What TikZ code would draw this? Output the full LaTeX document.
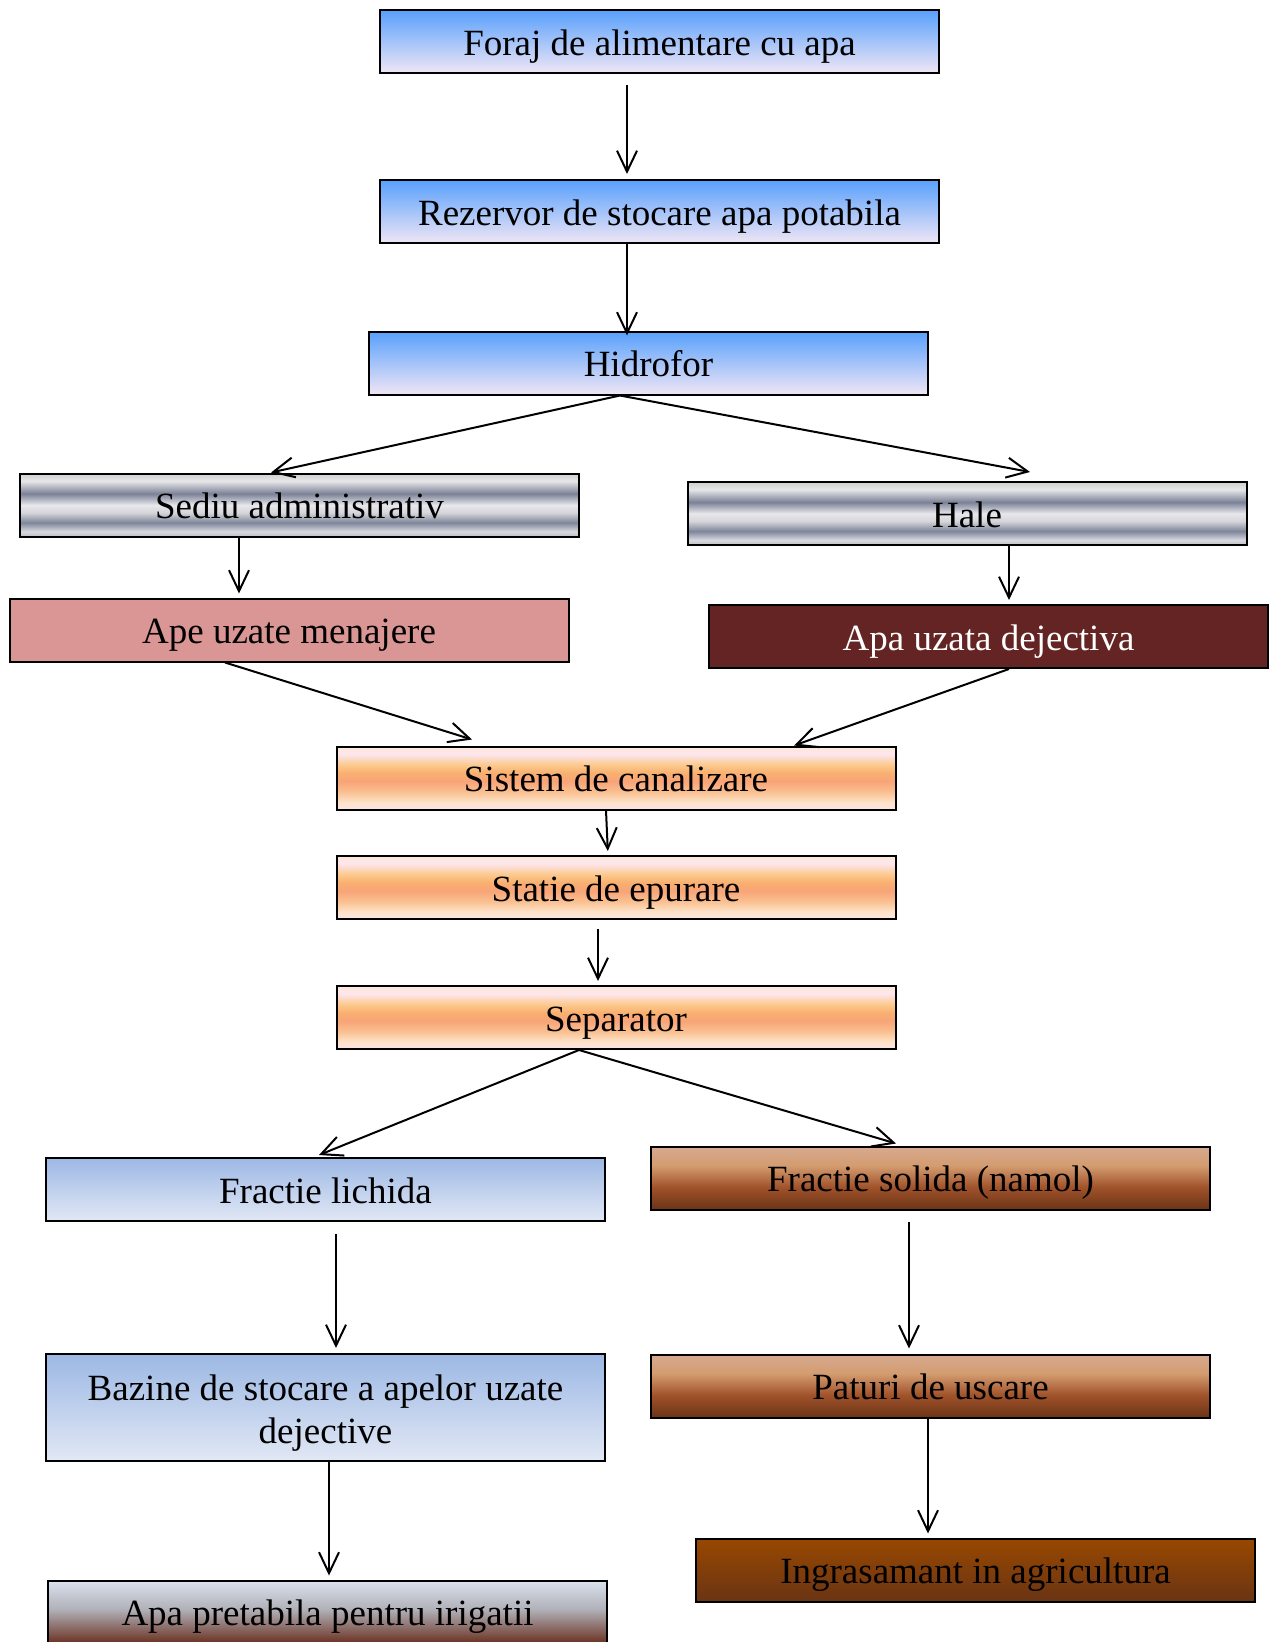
\documentclass[tikz,border=0pt]{standalone}
\usepackage{fontspec}
\setmainfont{Liberation Serif}
\usetikzlibrary{arrows.meta}

% colours
\definecolor{skyTop}{RGB}{88,160,252}
\definecolor{skyBot}{RGB}{240,230,245}
\definecolor{chA}{RGB}{207,207,210}
\definecolor{chB}{RGB}{230,230,232}
\definecolor{chDark}{RGB}{123,129,150}
\definecolor{chC}{RGB}{232,232,236}
\definecolor{chD}{RGB}{214,214,218}
\definecolor{chDark2}{RGB}{126,134,154}
\definecolor{chE}{RGB}{216,216,222}
\definecolor{chF}{RGB}{192,192,200}
\definecolor{peA}{RGB}{252,232,216}
\definecolor{peB}{RGB}{253,230,238}
\definecolor{peC}{RGB}{251,200,138}
\definecolor{peD}{RGB}{249,176,112}
\definecolor{peE}{RGB}{248,164,120}
\definecolor{peF}{RGB}{250,192,144}
\definecolor{peG}{RGB}{253,226,200}
\definecolor{peH}{RGB}{253,228,228}
\definecolor{liqTop}{RGB}{156,184,228}
\definecolor{liqBot}{RGB}{226,232,245}
\definecolor{soA}{RGB}{214,170,144}
\definecolor{soB}{RGB}{212,156,112}
\definecolor{soC}{RGB}{160,82,42}
\definecolor{soD}{RGB}{106,52,22}
\definecolor{ingTop}{RGB}{152,72,0}
\definecolor{ingBot}{RGB}{106,52,20}
\definecolor{irTop}{RGB}{218,226,238}
\definecolor{irMid}{RGB}{176,176,184}
\definecolor{irBot}{RGB}{106,48,32}
\definecolor{menajFill}{RGB}{217,150,148}
\definecolor{dejFill}{RGB}{99,36,35}

% vertical shadings (the path is mapped onto 25bp..75bp)
\pgfdeclareverticalshading{skyshade}{100bp}{color(0bp)=(skyBot); color(25bp)=(skyBot); color(75bp)=(skyTop); color(100bp)=(skyTop)}
\pgfdeclareverticalshading{chromeshade}{100bp}{color(0bp)=(chF); color(25bp)=(chF); color(29bp)=(chE); color(36bp)=(chDark2); color(44bp)=(chD); color(50bp)=(chC); color(59bp)=(chDark); color(69bp)=(chB); color(75bp)=(chA); color(100bp)=(chA)}
\pgfdeclareverticalshading{peachshade}{100bp}{color(0bp)=(peH); color(25bp)=(peH); color(31bp)=(peG); color(39bp)=(peF); color(47.5bp)=(peE); color(54bp)=(peD); color(60bp)=(peC); color(69bp)=(peB); color(75bp)=(peA); color(100bp)=(peA)}
\pgfdeclareverticalshading{liqshade}{100bp}{color(0bp)=(liqBot); color(25bp)=(liqBot); color(75bp)=(liqTop); color(100bp)=(liqTop)}
\pgfdeclareverticalshading{solshade}{100bp}{color(0bp)=(soD); color(25bp)=(soD); color(42.5bp)=(soC); color(60bp)=(soB); color(75bp)=(soA); color(100bp)=(soA)}
\pgfdeclareverticalshading{ingshade}{100bp}{color(0bp)=(ingBot); color(25bp)=(ingBot); color(75bp)=(ingTop); color(100bp)=(ingTop)}
\pgfdeclareverticalshading{irshade}{100bp}{color(0bp)=(irBot); color(25bp)=(irBot); color(52bp)=(irMid); color(75bp)=(irTop); color(100bp)=(irTop)}

\tikzset{
  boxbase/.style={draw=black, line width=2pt, rectangle, minimum width=559pt,
    minimum height=63pt, inner sep=0pt, align=center,
    font=\fontsize{37}{43}\selectfont},
  box/.style={boxbase, text height=35pt, text depth=8pt},
  sky/.style={box, shading=skyshade},
  chrome/.style={box, shading=chromeshade},
  peach/.style={box, shading=peachshade},
  liquid/.style={box, shading=liqshade},
  solid/.style={box, shading=solshade},
  flow/.style={line width=2pt, -{Straight Barb[length=21pt,width=20pt,line width=2pt]}}
}

\begin{document}
\begin{tikzpicture}[x=1pt, y=-1pt]
\useasboundingbox (0,0) rectangle (1269,1642);

% upper water supply chain
\node[sky] (foraj) at (659.5,41.5) {Foraj de alimentare cu apa};
\node[sky] (rezervor) at (659.5,211.5) {Rezervor de stocare apa potabila};
\node[sky] (hidrofor) at (648.5,363) {Hidrofor};

% consumers
\node[chrome] (sediu) at (299.5,505) {Sediu administrativ};
\node[chrome] (hale) at (967,513.5) {Hale};

% waste water
\node[box, fill=menajFill] (menaj) at (289,630) {Ape uzate menajere};
\node[box, fill=dejFill, text=white] (dej) at (988.5,636.5) {Apa uzata dejectiva};

% treatment
\node[peach] (sistem) at (616,778) {Sistem de canalizare};
\node[peach] (statie) at (616,887.5) {Statie de epurare};
\node[peach] (separator) at (616,1017.5) {Separator};

% fractions
\node[liquid] (lichida) at (325.5,1189.5) {Fractie lichida};
\node[solid] (solida) at (930.5,1178) {Fractie solida (namol)};
\node[boxbase, shading=liqshade, minimum height=107pt] (bazine) at (325.5,1407.5)
  {\rule{0pt}{36pt}Bazine de stocare a apelor uzate\\dejective};
\node[solid] (paturi) at (930.5,1386) {Paturi de uscare};
\node[box, shading=ingshade] (ingras) at (975.5,1570) {Ingrasamant in agricultura};
\node[box, shading=irshade] (irig) at (327.5,1612) {Apa pretabila pentru irigatii};

% connectors
\draw[flow, shorten <=11pt, shorten >=5pt] ([xshift=-32.5pt]foraj.south) -- ([xshift=-32.5pt]rezervor.north);
\draw[flow, shorten >=-5pt] ([xshift=-32.5pt]rezervor.south) -- ([xshift=-21.5pt]hidrofor.north);
\draw[flow] ([xshift=-28.5pt]hidrofor.south) -- ([xshift=-28.5pt]sediu.north);
\draw[flow] ([xshift=-28.5pt]hidrofor.south) -- ([xshift=63pt, yshift=9pt]hale.north);
\draw[flow, shorten >=4pt] ([xshift=-60.5pt]sediu.south) -- ([xshift=-50pt]menaj.north);
\draw[flow, shorten >=4pt] ([xshift=42pt]hale.south) -- ([xshift=20.5pt]dej.north);
\draw[flow] ([xshift=-64pt]menaj.south) -- ([xshift=-144pt, yshift=6pt]sistem.north);
\draw[flow] ([xshift=20.5pt]dej.south) -- ([xshift=178pt]sistem.north);
\draw[flow, shorten >=4pt] ([xshift=-10pt]sistem.south) -- ([xshift=-8pt]statie.north);
\draw[flow, shorten <=9pt, shorten >=4pt] ([xshift=-18pt]statie.south) -- ([xshift=-18pt]separator.north);
\draw[flow] ([xshift=-37pt]separator.south) -- ([xshift=-6.5pt, yshift=2pt]lichida.north);
\draw[flow] ([xshift=-37pt]separator.south) -- ([xshift=-34.5pt, yshift=2pt]solida.north);
\draw[flow, shorten <=12pt, shorten >=5pt] ([xshift=10.5pt]lichida.south) -- ([xshift=10.5pt]bazine.north);
\draw[flow, shorten <=11pt, shorten >=5pt] ([xshift=-21.5pt]solida.south) -- ([xshift=-21.5pt]paturi.north);
\draw[flow, shorten >=4pt] ([xshift=3.5pt]bazine.south) -- ([xshift=1.5pt]irig.north);
\draw[flow, shorten >=4pt] ([xshift=-2.5pt]paturi.south) -- ([xshift=-47.5pt]ingras.north);
\end{tikzpicture}
\end{document}
